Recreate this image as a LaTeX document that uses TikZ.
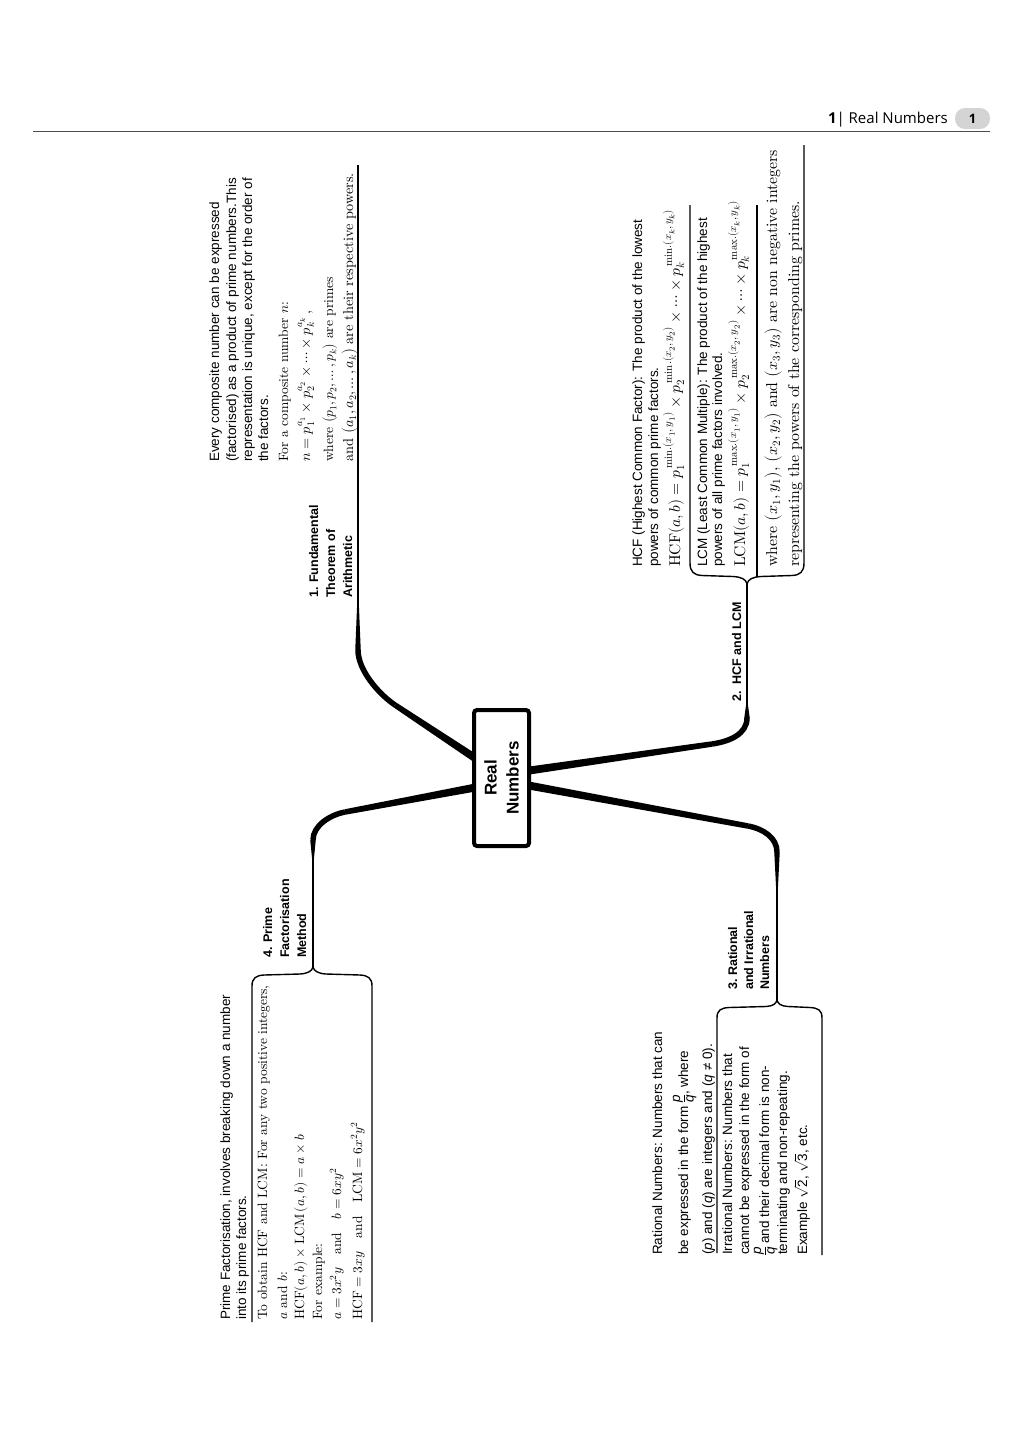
\documentclass[tikz,border=0pt]{standalone}
\usepackage{amsmath}
\usepackage{unicode-math}
\setmainfont{lmroman10-regular.otf}[ItalicFont=lmroman10-italic.otf,BoldFont=lmroman10-bold.otf,BoldItalicFont=lmroman10-bolditalic.otf]
\setmathfont{latinmodern-math.otf}
\newfontfamily\arialf{Liberation Sans}
\newfontfamily\hdrf{Open Sans}
\usetikzlibrary{calc}
\newcommand{\pqf}{\ensuremath{\vcenter{\offinterlineskip\halign{\hfil##\hfil\cr\textit{p}\cr\noalign{\kern1.2pt\hrule height0.6pt\kern1.6pt}\textit{q}\cr}}}}
\begin{document}
\begin{tikzpicture}[x=1pt,y=-1pt,
  sl/.style={rotate=90,anchor=base west,inner sep=0pt,font=\arialf\fontsize{13.5}{16}\selectfont},
  rl/.style={rotate=90,anchor=base west,inner sep=0pt,font=\fontsize{13.5}{16}\selectfont},
  rlb/.style={rl,font=\fontsize{14.3}{17}\selectfont},
  rlf/.style={rl,font=\fontsize{15.6}{18}\selectfont},
  rlc/.style={rl,font=\fontsize{15.8}{18}\selectfont},
  lb/.style={rotate=90,anchor=base west,inner sep=0pt,font=\arialf\bfseries\fontsize{12.5}{15}\selectfont},
  uline/.style={line width=1.4pt},
  thinln/.style={line width=1.8pt},
  brc/.style={line width=1.4pt,line join=round},
  brline/.style={line width=5.5pt},
  boxst/.style={draw,line width=4pt,rounded corners=3pt,fill=white,rotate=90,minimum width=136pt,minimum height=55pt,inner sep=0pt,align=center,font=\arialf\bfseries\fontsize{17}{22}\selectfont}
]
\useasboundingbox (0,0) rectangle (1024,1440);
\fill[white] (0,0) rectangle (1024,1440);

% header
\coordinate (hl) at (33,131);
\coordinate (hr) at (990,131);
\draw[line width=0.9pt,black!70] (hl) -- (hr);
\node[fill=black!17,rounded corners=10pt,minimum width=35pt,minimum height=21pt,inner sep=0pt,font=\hdrf\bfseries\fontsize{13}{15}\selectfont] (pg) at (972.5,118.5) {1};
\node[anchor=base east,inner sep=0pt,font=\hdrf\fontsize{15}{17}\selectfont] (hd) at (948,123) {\textbf{1}| Real Numbers};

% branch coordinates
\coordinate (s1) at (478,760); \coordinate (b1) at (395,705); \coordinate (v1) at (358,650); \coordinate (e1) at (358,603); \coordinate (t1) at (358,165);
\coordinate (s2) at (526,771); \coordinate (b2) at (712,744); \coordinate (v2) at (747,718); \coordinate (e2) at (747,704); \coordinate (k2) at (747,584);
\coordinate (s3) at (526,785); \coordinate (b3) at (748,826); \coordinate (v3) at (777,852); \coordinate (e3) at (777,890); \coordinate (k3) at (777,1000);
\coordinate (s4) at (478,787); \coordinate (b4) at (345,812); \coordinate (v4) at (313,840); \coordinate (e4) at (313,860); \coordinate (k4) at (313,967);

% branch 1
\fill ($(s1)!4pt!90:(b1)$) -- ($(b1)!2.75pt!-90:(s1)$) -- ($(b1)!2.75pt!90:(s1)$) -- ($(s1)!4pt!-90:(b1)$) -- cycle;
\draw[brline] (b1) .. controls (378.4,693.8) and (358,670) .. (v1);
\fill ($(v1)+(-2.75,0)$) -- ($(v1)+(2.75,0)$) -- ($(e1)+(0.8,0)$) -- ($(e1)+(-0.8,0)$) -- cycle;
\draw[thinln] (e1) -- (t1);
% branch 2
\fill ($(s2)!4pt!90:(b2)$) -- ($(b2)!2.75pt!-90:(s2)$) -- ($(b2)!2.75pt!90:(s2)$) -- ($(s2)!4pt!-90:(b2)$) -- cycle;
\draw[brline] (b2) .. controls (729.8,741.4) and (747,734) .. (v2);
\fill ($(v2)+(-2.75,0)$) -- ($(v2)+(2.75,0)$) -- ($(e2)+(0.8,0)$) -- ($(e2)+(-0.8,0)$) -- cycle;
\draw[thinln] (e2) -- (k2);
% branch 3
\fill ($(s3)!4pt!90:(b3)$) -- ($(b3)!2.75pt!-90:(s3)$) -- ($(b3)!2.75pt!90:(s3)$) -- ($(s3)!4pt!-90:(b3)$) -- cycle;
\draw[brline] (b3) .. controls (763.7,828.9) and (777,838) .. (v3);
\fill ($(v3)+(-2.75,0)$) -- ($(v3)+(2.75,0)$) -- ($(e3)+(0.8,0)$) -- ($(e3)+(-0.8,0)$) -- cycle;
\draw[thinln] (e3) -- (k3);
% branch 4
\fill ($(s4)!4pt!90:(b4)$) -- ($(b4)!2.75pt!-90:(s4)$) -- ($(b4)!2.75pt!90:(s4)$) -- ($(s4)!4pt!-90:(b4)$) -- cycle;
\draw[brline] (b4) .. controls (329.3,815) and (313,826) .. (v4);
\fill ($(v4)+(-2.75,0)$) -- ($(v4)+(2.75,0)$) -- ($(e4)+(0.8,0)$) -- ($(e4)+(-0.8,0)$) -- cycle;
\draw[thinln] (e4) -- (k4);

% central node
\node[boxst] (c) at (501.5,778) {Real\\Numbers};

% braces and underlines
\coordinate (u2a) at (690,205); \coordinate (u2c) at (804,145);
\draw[brc] (u2a) -- (690,563) .. controls (690,572) and (694,575) .. (702,575.5) -- (733,576.5) .. controls (741,577) and (746,579) .. (k2) .. controls (748,579) and (753,577) .. (761,576.5) -- (792,575.5) .. controls (800,575) and (804,572) .. (804,563) -- (u2c);
\coordinate (u2b) at (757,205); \coordinate (u2bb) at (757,576.6);
\draw[uline] (u2b) -- (u2bb);

\coordinate (u4a) at (252,1322); \coordinate (u4b) at (372,1322);
\draw[brc] (u4a) -- (252,986) .. controls (252,978) and (256,975.5) .. (264,975) -- (300,974) .. controls (308,973.5) and (312,971) .. (k4) .. controls (314,971) and (318,973.5) .. (326,974) -- (360,975) .. controls (368,975.5) and (372,978) .. (372,986) -- (u4b);

\coordinate (u3a) at (717,1253); \coordinate (u3b) at (822,1255);
\draw[brc] (u3a) -- (717,1018) .. controls (717,1010) and (721,1008) .. (729,1007.5) -- (766,1006.5) .. controls (773,1006) and (776,1004) .. (k3) .. controls (778,1004) and (781,1006) .. (788,1006.5) -- (810,1007.5) .. controls (818,1008) and (822,1010) .. (822,1018) -- (u3b);

% labels
\node[lb] (l1a) at (318,598) {1. Fundamental};
\node[lb] (l1b) at (335,598) {Theorem of};
\node[lb] (l1c) at (352,598) {Arithmetic};
\node[lb] (l2a) at (741,702) {2.\ \ HCF and LCM};
\node[lb] (l3a) at (737,990) {3.\ Rational};
\node[lb] (l3b) at (753,990) {and Irrational};
\node[lb] (l3c) at (769,990) {Numbers};
\node[lb] (l4a) at (272,958) {4. Prime};
\node[lb] (l4b) at (289,958) {Factorisation};
\node[lb] (l4c) at (306,958) {Method};

% branch 1 text
\node[sl] (f1) at (219,462) {Every composite number can be expressed};
\node[sl] (f2) at (236,462) {(factorised) as a product of prime numbers.This};
\node[sl] (f3) at (252,462) {representation is unique, except for the order of};
\node[sl] (f4) at (268,462) {the factors.};
\node[rl] (f5) at (288,462) {For a composite number $n$:};
\node[rlb] (f6) at (310,462) {$n = p_1^{a_1}\times p_2^{a_2}\times\cdots\times p_k^{a_k}$\,,};
\node[rl] (f7) at (333,462) {where $\bigl(p_1,p_2,\ldots,p_k\bigr)$ are primes};
\node[rlb] (f8) at (353,462) {and $\bigl(a_1,a_2,\ldots,a_k\bigr)$ are their respective powers.};

% branch 2 text
\node[sl] (h1) at (642,567) {HCF (Highest Common Factor): The product of the lowest};
\node[sl] (h2) at (658,567) {powers of common prime factors.};
\node[rlf] (h3) at (680,567) {$\mathrm{HCF}(a,b) = p_1^{\,\mathrm{min.}(x_1,\,y_1)}\times p_2^{\,\mathrm{min.}(x_2,\,y_2)}\times\cdots\times p_k^{\,\mathrm{min.}(x_k,\,y_k)}$};
\node[sl] (h4) at (707,567) {LCM (Least Common Multiple): The product of the highest};
\node[sl] (h5) at (722,567) {powers of all prime factors involved.};
\node[rlf] (h6) at (745,567) {$\mathrm{LCM}(a,b) = p_1^{\,\mathrm{max.}(x_1,\,y_1)}\times p_2^{\,\mathrm{max.}(x_2,\,y_2)}\times\cdots\times p_k^{\,\mathrm{max.}(x_k,\,y_k)}$};
\node[rlc] (h7) at (777,567) {where $\bigl(x_1,y_1\bigr)$, $\bigl(x_2,y_2\bigr)$ and $\bigl(x_3,y_3\bigr)$ are non negative integers};
\node[rlc] (h8) at (799,567) {representing the powers of the corresponding primes.};

% branch 4 text
\node[sl] (p1) at (230,1320) {Prime Factorisation, involves breaking down a number};
\node[sl] (p2) at (246,1320) {into its prime factors.};
\node[rl] (p3) at (267,1320) {To obtain HCF and LCM: For any two positive integers,};
\node[rl] (p4) at (287,1320) {$a$ and $b$:};
\node[rl] (p5) at (304,1320) {$\mathrm{HCF}(a,b)\times\mathrm{LCM}\,(a,b) = a\times b$};
\node[rl] (p6) at (322,1320) {For example:};
\node[rl] (p7) at (341,1320) {$a = 3x^2y\quad\text{and}\quad b = 6xy^2$};
\node[rl] (p8) at (362,1320) {$\mathrm{HCF} = 3xy\quad\text{and}\quad\mathrm{LCM} = 6x^2y^2$};

% branch 3 text
\node[sl] (r1) at (662,1255) {Rational Numbers: Numbers that can};
\node[sl] (r2) at (688,1255) {be expressed in the form \pqf, where};
\node[sl] (r3) at (712,1255) {(\textit{p}) and (\textit{q}) are integers and (\textit{q} ≠ 0).};
\node[sl] (r4) at (732,1255) {Irrational Numbers: Numbers that};
\node[sl] (r5) at (749,1255) {cannot be expressed in the form of};
\node[sl] (r6) at (769,1255) {\pqf\ and their decimal form is non-};
\node[sl] (r7) at (787,1255) {terminating and non-repeating.};
\node[sl] (r8) at (807,1255) {Example $\sqrt{\text{2}}$, $\sqrt{\text{3}}$, etc.};
\end{tikzpicture}
\end{document}
